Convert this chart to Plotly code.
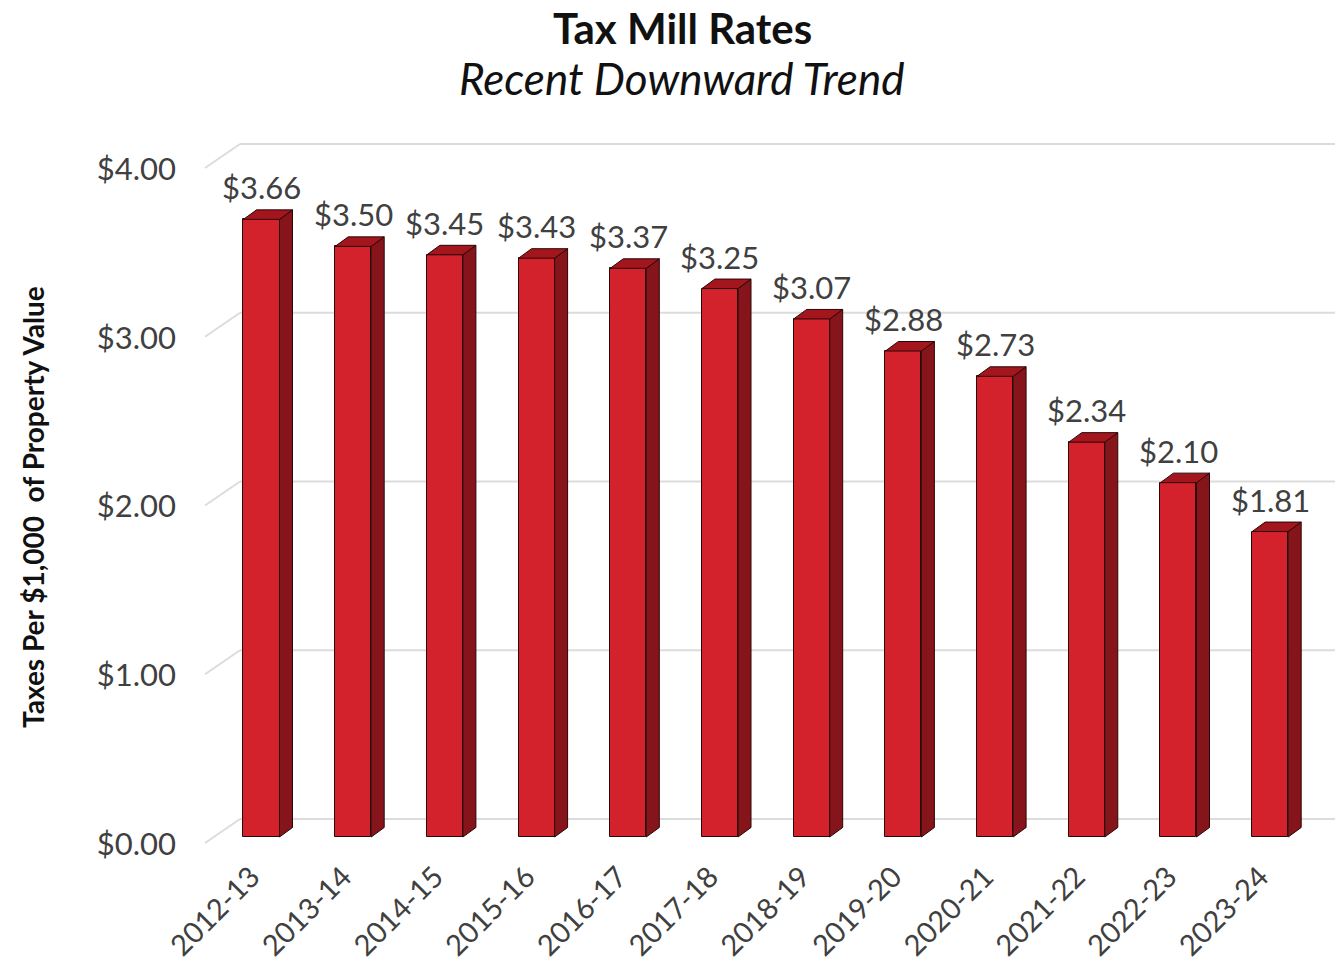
import plotly.graph_objects as go

# Fiscal years and mill rates (taxes per $1,000 of property value)
years = ["2012-13", "2013-14", "2014-15", "2015-16", "2016-17", "2017-18",
         "2018-19", "2019-20", "2020-21", "2021-22", "2022-23", "2023-24"]
rates = [3.66, 3.50, 3.45, 3.43, 3.37, 3.25, 3.07, 2.88, 2.73, 2.34, 2.10, 1.81]
tick_values = [0, 1, 2, 3, 4]
tick_labels = ["$0.00", "$1.00", "$2.00", "$3.00", "$4.00"]

# Page geometry
W, H = 1335, 961
M_L, M_R, M_T, M_B = 205, 0, 100, 100
PLOT_W = W - M_L - M_R
PLOT_H = H - M_T - M_B
X_RANGE = [-0.616, 11.707]
Y_RANGE = [-0.1422, 4.3674]
px_x = PLOT_W / (X_RANGE[1] - X_RANGE[0])   # pixels per category
px_y = PLOT_H / (Y_RANGE[1] - Y_RANGE[0])   # pixels per dollar


def paper_x(px):
    return (px - M_L) / PLOT_W


def paper_y(py):
    return (H - M_B - py) / PLOT_H


FONT = "Lato"
TEXT_COLOR = "#404040"
FRONT = "#D3222C"
SIDE = "#86141B"
TOP = "#A3161E"
EDGE = "#2A0607"
GRID = "#DCDCDC"

BAR_W = 0.393                 # bar width in category units
DEPTH_X = 13 / px_x           # oblique depth of each column
DEPTH_Y = 9.5 / px_y
WALL_X = 35 / PLOT_W          # back-wall offset (paper units)
WALL_Y = 18 / px_y            # back-wall rise above the column floor
LABEL_DROP = 6                # side wall front edge sits below the column floor

xs = list(range(len(years)))

fig = go.Figure()

# Front faces of the columns
fig.add_trace(go.Bar(
    x=xs, y=rates, width=BAR_W,
    marker=dict(color=FRONT, line=dict(color=EDGE, width=1)),
    hoverinfo="skip", showlegend=False,
))

# Right-hand side faces and top faces, projected obliquely
side_x, side_y, top_x, top_y = [], [], [], []
for x, v in zip(xs, rates):
    r = x + BAR_W / 2
    l = x - BAR_W / 2
    side_x += [r, r, r + DEPTH_X, r + DEPTH_X, r, None]
    side_y += [0, v, v + DEPTH_Y, DEPTH_Y, 0, None]
    top_x += [l, r, r + DEPTH_X, l + DEPTH_X, l, None]
    top_y += [v, v, v + DEPTH_Y, v + DEPTH_Y, v, None]

fig.add_trace(go.Scatter(
    x=side_x, y=side_y, mode="lines", fill="toself", fillcolor=SIDE,
    line=dict(color=EDGE, width=1), hoverinfo="skip", showlegend=False,
))
fig.add_trace(go.Scatter(
    x=top_x, y=top_y, mode="lines", fill="toself", fillcolor=TOP,
    line=dict(color=EDGE, width=1), hoverinfo="skip", showlegend=False,
))

# Back-wall gridlines with the receding side-wall segment
shapes = []
for v in tick_values:
    y_front = v - LABEL_DROP / px_y
    y_back = v + WALL_Y
    shapes.append(dict(type="line", xref="paper", yref="y", layer="below",
                       x0=WALL_X, x1=1, y0=y_back, y1=y_back,
                       line=dict(color=GRID, width=2)))
    shapes.append(dict(type="line", xref="paper", yref="y", layer="below",
                       x0=0, x1=WALL_X, y0=y_front, y1=y_back,
                       line=dict(color=GRID, width=2)))

annotations = []
# Value labels above each column
for x, v in zip(xs, rates):
    annotations.append(dict(
        x=x, y=v, xref="x", yref="y", text=f"${v:.2f}", showarrow=False,
        yanchor="middle", yshift=32,
        font=dict(family=FONT, size=31, color=TEXT_COLOR),
    ))

# Titles
annotations.append(dict(
    x=paper_x(682), y=paper_y(2), xref="paper", yref="paper", showarrow=False,
    xanchor="center", yanchor="top", borderpad=0,
    text="<b>Tax Mill Rates</b>",
    font=dict(family=FONT, size=42, color="#111111"),
))
annotations.append(dict(
    x=paper_x(682), y=paper_y(78), xref="paper", yref="paper", showarrow=False,
    xanchor="center", yanchor="middle",
    text="<i>Recent Downward Trend</i>",
    font=dict(family=FONT, size=44, color="#111111"),
))
# Vertical axis title
annotations.append(dict(
    x=paper_x(33), y=paper_y(507),
    xref="paper", yref="paper", showarrow=False, textangle=-90,
    xanchor="center", yanchor="middle",
    text="<b>Taxes Per $1,000&nbsp;&nbsp;of Property Value</b>",
    font=dict(family=FONT, size=28, color="#111111"),
))

fig.update_layout(
    width=W, height=H,
    margin=dict(l=M_L, r=M_R, t=M_T, b=M_B, autoexpand=False),
    paper_bgcolor="white", plot_bgcolor="white",
    shapes=shapes, annotations=annotations,
    bargap=0,
    xaxis=dict(
        range=X_RANGE, tickmode="array", tickvals=xs, ticktext=years,
        tickangle=-45, showgrid=False, zeroline=False, showline=False,
        ticks="", ticklabelshift=-10, ticklabelstandoff=-8,
        tickfont=dict(family=FONT, size=29, color=TEXT_COLOR),
    ),
    yaxis=dict(
        range=Y_RANGE, tickmode="array", tickvals=tick_values, ticktext=tick_labels,
        showgrid=False, zeroline=False, showline=False, ticks="",
        ticklabelshift=7, ticklabelstandoff=28,
        tickfont=dict(family=FONT, size=31, color=TEXT_COLOR),
    ),
)

fig.write_html("out.html")
